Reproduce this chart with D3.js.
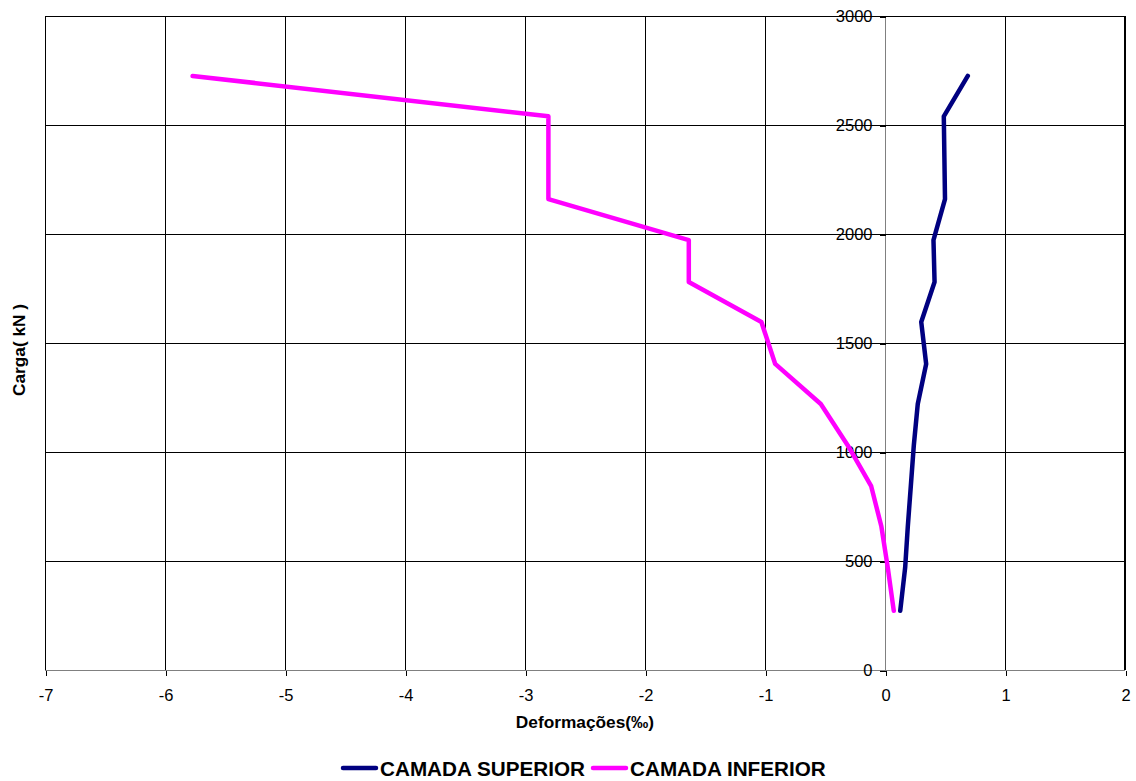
<!DOCTYPE html>
<html>
<head>
<meta charset="utf-8">
<script src="https://cdn.jsdelivr.net/npm/d3@7"></script>
<style>
  body { margin: 0; background: #fff; }
  svg { display: block; }
  text { font-family: "Liberation Sans", Arial, sans-serif; }
</style>
</head>
<body>
<svg id="chart" width="1136" height="781"></svg>
<script>
// ---- data ----
const loads = [272, 470, 658, 843, 1030, 1220, 1404, 1596, 1780, 1972, 2160, 2350, 2540, 2725];
const camadaSuperior = [0.127, 0.168, 0.19, 0.215, 0.24, 0.273, 0.343, 0.302, 0.413, 0.404, 0.50, 0.495, 0.49, 0.69];
const camadaInferior = [0.073, 0.023, -0.03, -0.115, -0.31, -0.535, -0.915, -1.03, -1.635, -1.635, -2.805, -2.805, -2.805, -5.77];
const xTicks = [-7, -6, -5, -4, -3, -2, -1, 0, 1, 2];
const yTicks = [0, 500, 1000, 1500, 2000, 2500, 3000];
const seriesNames = ["CAMADA SUPERIOR", "CAMADA INFERIOR"];
const seriesColors = ["#000080", "#FF00FF"];

(function () {
const svg = d3.select("#chart");
const pLeft = 45, pTop = 16, pRight = 1125, pBottom = 670;

const x = d3.scaleLinear().domain([-7, 2]).range([pLeft, pRight]);
const y = d3.scaleLinear().domain([0, 3000]).range([pBottom, pTop]);

// gridlines
const g = svg.append("g").attr("shape-rendering", "crispEdges");
g.selectAll(".vg").data(xTicks).enter().append("line")
  .attr("x1", d => Math.round(x(d)) + 0.5).attr("x2", d => Math.round(x(d)) + 0.5)
  .attr("y1", pTop).attr("y2", pBottom)
  .attr("stroke", d => d === 0 ? "#808080" : "#000").attr("stroke-width", 1);
g.selectAll(".hg").data(yTicks).enter().append("line")
  .attr("x1", pLeft).attr("x2", pRight)
  .attr("y1", d => Math.round(y(d)) + 0.5).attr("y2", d => Math.round(y(d)) + 0.5)
  .attr("stroke", d => d === 0 ? "#808080" : "#000").attr("stroke-width", 1);

// axes
const fmt = d => String(d);
const xAxis = d3.axisBottom(x).tickValues(xTicks).tickSize(5).tickPadding(14).tickFormat(fmt);
const yAxis = d3.axisLeft(y).tickValues(yTicks).tickSize(6).tickPadding(7).tickFormat(fmt);

const xa = svg.append("g").attr("transform", `translate(0.5,${Math.round(y(0)) + 0.5})`).call(xAxis);
const ya = svg.append("g").attr("transform", `translate(${Math.round(x(0)) + 0.5},0.5)`).call(yAxis);
[xa, ya].forEach(a => {
  a.select(".domain").remove();
  a.selectAll("line").attr("stroke", "#000").attr("shape-rendering", "crispEdges");
  a.selectAll("text").attr("font-size", 16.5).attr("fill", "#000")
    .attr("font-family", "'Liberation Sans', Arial, sans-serif");
});

// plot border (left/top/right)
svg.append("path")
  .attr("d", `M${pLeft + 0.5},${pBottom}V${pTop + 0.5}H${pRight - 0.5}V${pBottom}`)
  .attr("fill", "none").attr("stroke", "#000").attr("shape-rendering", "crispEdges");

// series
const seriesData = [camadaSuperior, camadaInferior];
const line = d3.line().x(d => x(d[0])).y(d => y(d[1]));
seriesData.forEach((vals, i) => {
  const pts = vals.map((v, j) => [v, loads[j]]);
  svg.append("path").attr("d", line(pts))
    .attr("fill", "none").attr("stroke", seriesColors[i])
    .attr("stroke-width", 4.5).attr("stroke-linejoin", "round").attr("stroke-linecap", "round");
});

// axis titles
svg.append("text").attr("x", 585).attr("y", 728).attr("text-anchor", "middle")
  .attr("font-size", 17.3).attr("font-weight", "bold").text("Deformações(‰)");
svg.append("text").attr("transform", "translate(25,350) rotate(-90)").attr("text-anchor", "middle")
  .attr("font-size", 17.3).attr("font-weight", "bold").text("Carga( kN )");

// legend
const legendX = [343, 593];
seriesNames.forEach((name, i) => {
  svg.append("line").attr("x1", legendX[i]).attr("x2", legendX[i] + 33)
    .attr("y1", 768).attr("y2", 768).attr("stroke", seriesColors[i]).attr("stroke-width", 4.5)
    .attr("stroke-linecap", "round");
  svg.append("text").attr("x", legendX[i] + 37).attr("y", 776)
    .attr("font-size", 20.7).attr("font-weight", "bold").text(name);
});
})();
</script>
</body>
</html>
